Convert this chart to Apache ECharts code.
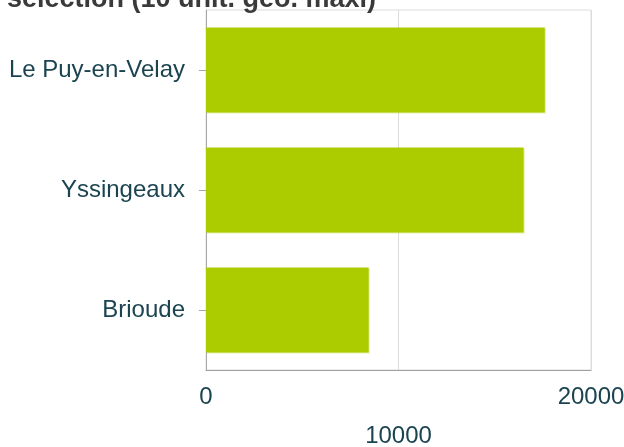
<!DOCTYPE html>
<html>
<head>
<meta charset="utf-8">
<script src="https://cdn.jsdelivr.net/npm/echarts@6/dist/echarts.min.js"></script>
<style>
    html, body { margin: 0; padding: 0; background: #fff; }
    #chart { width: 624px; height: 447px; }
</style>
</head>
<body>
<div id="chart"></div>
<script>
    // communes de la sélection
    var communes = ['Le Puy-en-Velay', 'Yssingeaux', 'Brioude'];
    var valeurs = [17600, 16500, 8450];
    var xTicks = [0, 10000, 20000];

    var option = {
        animation: false,
        title: {
            text: 'de la sélection (10 unit. géo. maxi)',
            right: 248,
            top: -14,
            padding: 0,
            textStyle: {
                fontFamily: 'Liberation Sans',
                fontWeight: 'bold',
                fontSize: 27,
                color: '#3a3a3a'
            }
        },
        grid: {
            left: 206,
            right: 33,
            top: 10,
            bottom: 77,
            outerBoundsMode: 'none',
            show: true,
            borderColor: '#dcdcdc',
            borderWidth: 1
        },
        xAxis: {
            type: 'value',
            min: xTicks[0],
            max: xTicks[xTicks.length - 1],
            interval: xTicks[1] - xTicks[0],
            axisLine: { show: true, lineStyle: { color: '#a0a0a0', width: 1 } },
            axisTick: { show: false },
            splitLine: { lineStyle: { color: '#dcdcdc', width: 1 } },
            axisLabel: {
                margin: 8,
                color: '#1b4450',
                fontFamily: 'Liberation Sans',
                fontSize: 24,
                lineHeight: 39,
                // labels en quinconce
                formatter: function (v) {
                    var i = xTicks.indexOf(v);
                    return i % 2 === 1 ? '\n' + v : '' + v;
                }
            }
        },
        yAxis: {
            type: 'category',
            inverse: true,
            data: communes,
            axisLine: { show: true, lineStyle: { color: '#a8a8a8', width: 1 } },
            axisTick: { show: true, length: 7, alignWithLabel: true, lineStyle: { color: '#a8a8a8' } },
            splitLine: { show: false },
            axisLabel: {
                margin: 21,
                color: '#1b4450',
                fontFamily: 'Liberation Sans',
                fontSize: 24
            }
        },
        series: [
            {
                type: 'bar',
                data: valeurs,
                barCategoryGap: '29%',
                itemStyle: {
                    color: '#adcc00',
                    shadowColor: 'rgba(173,204,0,0.35)',
                    shadowOffsetX: 1,
                    shadowOffsetY: 1,
                    shadowBlur: 0
                }
            }
        ]
    };

    var myChart = echarts.init(document.getElementById('chart'));
    myChart.setOption(option);
</script>
</body>
</html>
